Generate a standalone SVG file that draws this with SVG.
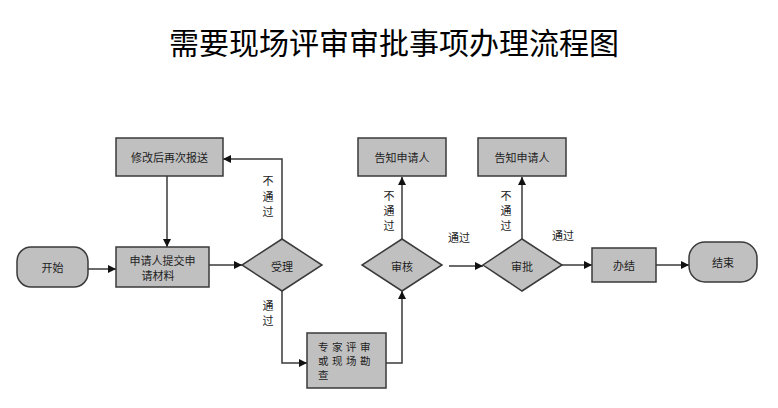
<svg xmlns="http://www.w3.org/2000/svg" width="778" height="408" viewBox="0 0 778 408">
<style>
.n{fill:#c0c0c0;stroke:#3a3a3a;stroke-width:1.5}
.t{font-family:"Noto Sans CJK SC","Liberation Sans",sans-serif;font-size:11px;fill:#222;text-anchor:middle;dominant-baseline:central}
.e{font-family:"Noto Sans CJK SC","Liberation Sans",sans-serif;font-size:10.5px;fill:#222;text-anchor:start;dominant-baseline:central;letter-spacing:3.5px}
.l{font-family:"Noto Sans CJK SC","Liberation Sans",sans-serif;font-size:11px;fill:#222;text-anchor:middle;dominant-baseline:central}
.c{fill:none;stroke:#3a3a3a;stroke-width:1.5}
</style>
<defs>
<marker id="a" viewBox="0 0 10 10" refX="10" refY="5" markerWidth="8" markerHeight="8" markerUnits="userSpaceOnUse" orient="auto">
<path d="M0,0 L10,5 L0,10 z" fill="#111"/>
</marker>
</defs>
<rect width="778" height="408" fill="#fff"/>
<text x="394" y="41" font-family="Noto Sans CJK SC,Liberation Sans,sans-serif" font-size="30" fill="#000" text-anchor="middle" dominant-baseline="central">需要现场评审审批事项办理流程图</text>
<g id="connectors">
<path class="c" d="M88,269 H116" marker-end="url(#a)"/>
<path class="c" d="M167,176 V247" marker-end="url(#a)"/>
<path class="c" d="M209,265 H242" marker-end="url(#a)"/>
<path class="c" d="M282,239 V159 H223" marker-end="url(#a)"/>
<path class="c" d="M282,291 V363 H307" marker-end="url(#a)"/>
<path class="c" d="M386,363 H402 V291" marker-end="url(#a)"/>
<path class="c" d="M402,239 V177" marker-end="url(#a)"/>
<path class="c" d="M449,266 H483" marker-end="url(#a)"/>
<path class="c" d="M522,239 V177" marker-end="url(#a)"/>
<path class="c" d="M562,265 H592" marker-end="url(#a)"/>
<path class="c" d="M656,265 H689" marker-end="url(#a)"/>
<text class="l" x="268" y="180">不</text><text class="l" x="268" y="196">通</text><text class="l" x="268" y="211">过</text>
<text class="l" x="268" y="305">通</text><text class="l" x="268" y="320">过</text>
<text class="l" x="389" y="195">不</text><text class="l" x="389" y="210">通</text><text class="l" x="389" y="225">过</text>
<text class="l" x="459" y="237">通过</text>
<text class="l" x="506" y="195">不</text><text class="l" x="506" y="210">通</text><text class="l" x="506" y="225">过</text>
<text class="l" x="563" y="235">通过</text>
</g>
<g id="start"><rect class="n" x="17" y="247" width="71" height="40" rx="14"/><text class="t" x="52.5" y="267">开始</text></g>
<g id="modify"><rect class="n" x="116" y="138" width="107" height="38"/><text class="t" x="169.5" y="157">修改后再次报送</text></g>
<g id="submit"><rect class="n" x="116" y="247" width="93" height="40"/><text class="t" x="162.5" y="260">申请人提交申</text><text class="t" x="158" y="275">请材料</text></g>
<g id="accept"><polygon class="n" points="282,239 322,265 282,291 242,265"/><text class="t" x="282" y="266">受理</text></g>
<g id="expert"><rect class="n" x="307" y="333" width="79" height="55"/>
<text class="e" x="318" y="346">专家评审</text>
<text class="e" x="318" y="360">或现场勘</text>
<text class="e" x="318" y="374">查</text></g>
<g id="review"><polygon class="n" points="402,239 442,265 402,291 362,265"/><text class="t" x="402" y="266">审核</text></g>
<g id="notify1"><rect class="n" x="358" y="138" width="88" height="38"/><text class="t" x="402" y="157">告知申请人</text></g>
<g id="approve"><polygon class="n" points="522,239 562,265 522,291 483,265"/><text class="t" x="522" y="266">审批</text></g>
<g id="notify2"><rect class="n" x="478" y="138" width="88" height="38"/><text class="t" x="522" y="157">告知申请人</text></g>
<g id="done"><rect class="n" x="592" y="248" width="64" height="34"/><text class="t" x="624" y="265">办结</text></g>
<g id="end"><rect class="n" x="689" y="242" width="68" height="40" rx="16"/><text class="t" x="723" y="262">结束</text></g>
</svg>
